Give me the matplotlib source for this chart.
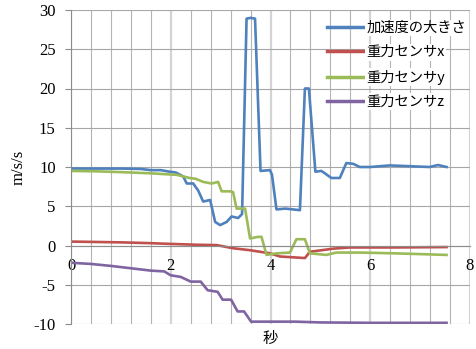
import matplotlib
matplotlib.use('Agg')
import matplotlib.pyplot as plt
from matplotlib.ticker import MultipleLocator

plt.rcParams['axes.unicode_minus'] = False

# 加速度の大きさ
t_mag = [0.0, 0.5, 1.0, 1.4, 1.6, 1.8, 1.98, 2.1, 2.25, 2.32, 2.45, 2.55, 2.65, 2.79, 2.89, 2.99,
         3.12, 3.22, 3.35, 3.43, 3.52, 3.60, 3.69, 3.80, 3.99, 4.03, 4.12, 4.3, 4.59, 4.69, 4.77,
         4.90, 5.02, 5.09, 5.22, 5.39, 5.52, 5.66, 5.79, 6.0, 6.39, 6.8, 7.19, 7.36, 7.53]
v_mag = [9.8, 9.8, 9.8, 9.75, 9.6, 9.6, 9.4, 9.3, 8.8, 7.9, 7.9, 7.0, 5.6, 5.8, 3.0, 2.6,
         3.0, 3.7, 3.5, 4.0, 28.9, 29.0, 28.9, 9.5, 9.6, 9.0, 4.6, 4.7, 4.5, 20.0, 20.0,
         9.4, 9.5, 9.2, 8.6, 8.6, 10.5, 10.4, 10.0, 10.0, 10.2, 10.1, 10.0, 10.25, 10.0]

# 重力センサx
t_x = [0.0, 0.5, 1.0, 1.58, 2.0, 2.5, 2.92, 3.25, 3.59, 3.99, 4.19, 4.69, 4.79, 5.26, 5.59, 6.5, 7.53]
v_x = [0.5, 0.45, 0.4, 0.3, 0.2, 0.1, 0.05, -0.35, -0.6, -1.0, -1.4, -1.6, -0.8, -0.4, -0.25, -0.25, -0.2]

# 重力センサy
t_y = [0.0, 0.5, 1.0, 1.58, 2.12, 2.38, 2.5, 2.65, 2.82, 2.95, 3.02, 3.19, 3.25, 3.32, 3.49, 3.59,
       3.75, 3.82, 3.92, 4.12, 4.39, 4.52, 4.69, 4.79, 5.12, 5.32, 5.79, 6.5, 7.53]
v_y = [9.5, 9.45, 9.35, 9.2, 9.0, 8.6, 8.5, 8.1, 7.9, 8.1, 6.9, 6.9, 6.8, 4.7, 4.7, 0.9,
       1.1, 1.1, -1.2, -1.0, -0.9, 0.8, 0.8, -1.0, -1.2, -0.9, -0.9, -1.0, -1.2]

# 重力センサz
t_z = [0.0, 0.4, 0.8, 1.2, 1.6, 1.87, 2.0, 2.2, 2.4, 2.6, 2.74, 2.94, 3.04, 3.21, 3.34, 3.47,
       3.61, 4.0, 4.5, 5.0, 6.0, 7.53]
v_z = [-2.2, -2.35, -2.6, -2.9, -3.2, -3.3, -3.8, -4.0, -4.6, -4.6, -5.7, -5.9, -6.9, -6.9, -8.4, -8.4,
       -9.7, -9.7, -9.7, -9.8, -9.85, -9.85]

series = [
    (t_mag, v_mag, '加速度の大きさ', '#4F81BD'),
    (t_x, v_x, '重力センサx', '#C0504D'),
    (t_y, v_y, '重力センサy', '#9BBB59'),
    (t_z, v_z, '重力センサz', '#8064A2'),
]

jp = ['Noto Sans CJK JP', 'DejaVu Sans']
serif = 'Liberation Serif'

fig = plt.figure(figsize=(4.76, 3.49), dpi=100)
ax = fig.add_axes([71/476, 1-324/349, 399/476, 314/349])

ax.set_xlim(0, 8)
ax.set_ylim(-10, 30)
ax.xaxis.set_major_locator(MultipleLocator(2))
ax.xaxis.set_minor_locator(MultipleLocator(0.4))
ax.yaxis.set_major_locator(MultipleLocator(5))

# grid
ax.grid(which='minor', axis='x', color='#b4b4b4', linewidth=0.8)
ax.grid(which='major', axis='x', color='#d4d4d4', linewidth=1.6)
ax.grid(which='major', axis='y', color='#a6a6a6', linewidth=0.8)
ax.set_axisbelow(True)

for s in ['top', 'right']:
    ax.spines[s].set_visible(False)
ax.spines['bottom'].set_position(('data', 0))
ax.spines['bottom'].set_color('#8c8c8c')
ax.spines['left'].set_color('#8c8c8c')

for t, v, lab, col in series:
    ax.plot(t, v, color=col, linewidth=1.9, label=lab, solid_joinstyle='round')

ax.tick_params(axis='y', which='major', length=4, color='#8c8c8c', pad=7,
               labelsize=12)
ax.tick_params(axis='x', which='both', length=0, pad=9, labelsize=12)
for lbl in ax.get_xticklabels() + ax.get_yticklabels():
    lbl.set_fontfamily(serif)

ax.set_ylabel('m/s/s', fontsize=12, fontfamily=serif)
ax.yaxis.set_label_coords(-52/399, 0.5)
ax.yaxis.label.set_va('center')
ax.set_xlabel('秒', fontsize=11, fontfamily=jp)
ax.xaxis.set_label_coords(0.5, -14/314)
ax.xaxis.label.set_va('center')

leg = ax.legend(loc='upper left', bbox_to_anchor=(327/476, 1-21/349),
                bbox_transform=fig.transFigure, frameon=False,
                prop={'family': jp, 'size': 10.3}, handlelength=2.5,
                handletextpad=0.25, labelspacing=0.72, borderpad=0,
                borderaxespad=0)
for line in leg.get_lines():
    line.set_linewidth(2.5)
for txt in leg.get_texts():
    txt.set_bbox(dict(facecolor='white', edgecolor='none', pad=1))

fig.savefig('out.png', dpi=100)
